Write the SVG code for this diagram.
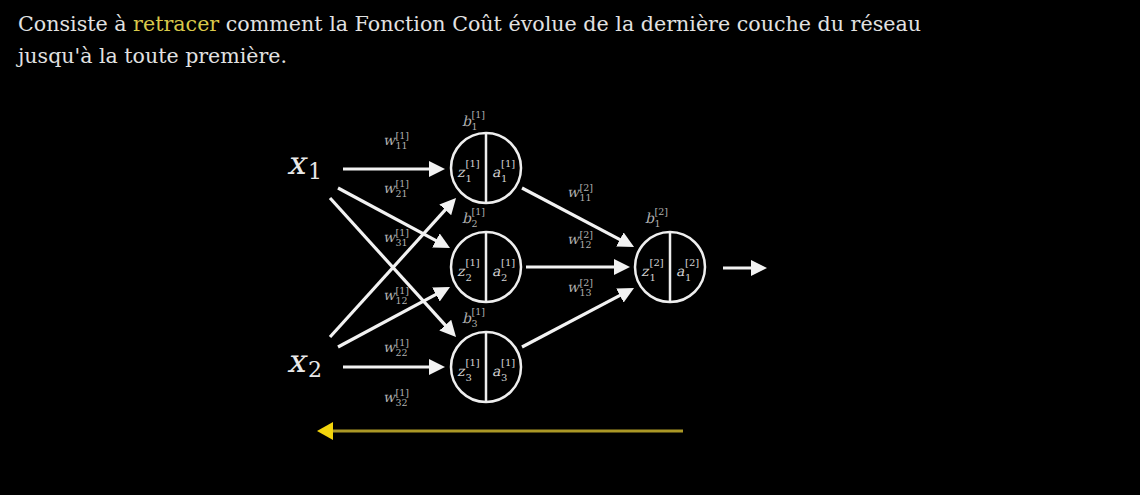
<svg xmlns="http://www.w3.org/2000/svg" width="1140" height="495" viewBox="0 0 1140 495">
<style>
text { font-family: "DejaVu Serif", "Liberation Serif", serif; }
.para { fill: #e2e2e2; font-size: 20px; }
.hl { fill: #d9c94a; }
.xl { fill: #e8e8e8; font-size: 32px; }
.xs { fill: #e8e8e8; font-size: 22px; }
.w { fill: #b0b0b0; font-size: 14px; }
.s { fill: #b0b0b0; font-size: 9.5px; }
.b { fill: #b0b0b0; font-size: 14px; }
.n { fill: #d2d2d2; font-size: 14px; }
.ns { fill: #d2d2d2; font-size: 10px; }
.node circle { fill: none; stroke: #eeeeee; stroke-width: 2.5; }
.node line { stroke: #eeeeee; stroke-width: 2.5; }
.edge { stroke: #f2f2f2; stroke-width: 3.2; fill: none; marker-end: url(#ah); }
</style>
<defs>
<marker id="ah" markerUnits="userSpaceOnUse" viewBox="0 0 16 16" markerWidth="16" markerHeight="16" refX="6" refY="8" orient="auto">
<path d="M0,0 L16,8 L0,16 z" fill="#f2f2f2"/>
</marker>
<marker id="ya" markerUnits="userSpaceOnUse" viewBox="0 0 16 18" markerWidth="16" markerHeight="18" refX="6" refY="9" orient="auto">
<path d="M0,0 L16,9 L0,18 z" fill="#f2d40c"/>
</marker>
</defs>
<rect width="1140" height="495" fill="#000000"/>

<g id="caption">
<text class="para" x="18" y="31" textLength="903" lengthAdjust="spacingAndGlyphs">Consiste à <tspan class="hl">retracer</tspan> comment la Fonction Coût évolue de la dernière couche du réseau</text>
<text class="para" x="18" y="63" textLength="269" lengthAdjust="spacingAndGlyphs">jusqu'à la toute première.</text>
</g>

<g id="connectors">
<line class="edge" x1="343" y1="169" x2="435" y2="169"/>
<line class="edge" x1="338" y1="188" x2="441.2" y2="243.3"/>
<line class="edge" x1="330" y1="198" x2="449.3" y2="329.6"/>
<line class="edge" x1="330" y1="337" x2="449.3" y2="205.4"/>
<line class="edge" x1="338" y1="347" x2="441.2" y2="291.7"/>
<line class="edge" x1="343" y1="367" x2="435" y2="367"/>
<line class="edge" x1="522" y1="188" x2="625.2" y2="242.3"/>
<line class="edge" x1="526" y1="267" x2="620" y2="267"/>
<line class="edge" x1="522" y1="347" x2="625.2" y2="292.7"/>
<line class="edge" x1="723" y1="268" x2="757" y2="268"/>
<line id="backprop" x1="683" y1="431" x2="327" y2="431" stroke="#ab9826" stroke-width="3" marker-end="url(#ya)"/>
</g>

<g id="input-x1" transform="translate(287,174)"><text class="xl" transform="skewX(-13)">x</text><text class="xs" x="21" y="5">1</text></g>
<g id="input-x2" transform="translate(287,372)"><text class="xl" transform="skewX(-13)">x</text><text class="xs" x="21" y="5">2</text></g>

<g id="weights">
<g transform="translate(383,145)"><text class="w" transform="skewX(-13)">w</text><text class="s" x="12.5" y="-6">[1]</text><text class="s" x="12.5" y="3.5">11</text></g>
<g transform="translate(383,193)"><text class="w" transform="skewX(-13)">w</text><text class="s" x="12.5" y="-6">[1]</text><text class="s" x="12.5" y="3.5">21</text></g>
<g transform="translate(383,242)"><text class="w" transform="skewX(-13)">w</text><text class="s" x="12.5" y="-6">[1]</text><text class="s" x="12.5" y="3.5">31</text></g>
<g transform="translate(383,300)"><text class="w" transform="skewX(-13)">w</text><text class="s" x="12.5" y="-6">[1]</text><text class="s" x="12.5" y="3.5">12</text></g>
<g transform="translate(383,352)"><text class="w" transform="skewX(-13)">w</text><text class="s" x="12.5" y="-6">[1]</text><text class="s" x="12.5" y="3.5">22</text></g>
<g transform="translate(383,402)"><text class="w" transform="skewX(-13)">w</text><text class="s" x="12.5" y="-6">[1]</text><text class="s" x="12.5" y="3.5">32</text></g>
<g transform="translate(567,197)"><text class="w" transform="skewX(-13)">w</text><text class="s" x="12.5" y="-6">[2]</text><text class="s" x="12.5" y="3.5">11</text></g>
<g transform="translate(567,244)"><text class="w" transform="skewX(-13)">w</text><text class="s" x="12.5" y="-6">[2]</text><text class="s" x="12.5" y="3.5">12</text></g>
<g transform="translate(567,292)"><text class="w" transform="skewX(-13)">w</text><text class="s" x="12.5" y="-6">[2]</text><text class="s" x="12.5" y="3.5">13</text></g>
</g>

<g id="biases">
<g transform="translate(462,126)"><text class="b" transform="skewX(-13)">b</text><text class="s" x="9.5" y="-8">[1]</text><text class="s" x="9.5" y="4">1</text></g>
<g transform="translate(462,223)"><text class="b" transform="skewX(-13)">b</text><text class="s" x="9.5" y="-8">[1]</text><text class="s" x="9.5" y="4">2</text></g>
<g transform="translate(462,323)"><text class="b" transform="skewX(-13)">b</text><text class="s" x="9.5" y="-8">[1]</text><text class="s" x="9.5" y="4">3</text></g>
<g transform="translate(645,223)"><text class="b" transform="skewX(-13)">b</text><text class="s" x="9.5" y="-8">[2]</text><text class="s" x="9.5" y="4">1</text></g>
</g>

<g id="node-1-1" class="node" transform="translate(486,168)">
<circle r="35"/><line x1="0" y1="-35" x2="0" y2="35"/>
<g transform="translate(-29,9)"><text class="n" transform="skewX(-13)">z</text><text class="ns" x="8.5" y="-10">[1]</text><text class="ns" x="8.5" y="5">1</text></g>
<g transform="translate(6,9)"><text class="n" transform="skewX(-13)">a</text><text class="ns" x="9" y="-10">[1]</text><text class="ns" x="9" y="5">1</text></g>
</g>
<g id="node-1-2" class="node" transform="translate(486,267)">
<circle r="35"/><line x1="0" y1="-35" x2="0" y2="35"/>
<g transform="translate(-29,9)"><text class="n" transform="skewX(-13)">z</text><text class="ns" x="8.5" y="-10">[1]</text><text class="ns" x="8.5" y="5">2</text></g>
<g transform="translate(6,9)"><text class="n" transform="skewX(-13)">a</text><text class="ns" x="9" y="-10">[1]</text><text class="ns" x="9" y="5">2</text></g>
</g>
<g id="node-1-3" class="node" transform="translate(486,367)">
<circle r="35"/><line x1="0" y1="-35" x2="0" y2="35"/>
<g transform="translate(-29,9)"><text class="n" transform="skewX(-13)">z</text><text class="ns" x="8.5" y="-10">[1]</text><text class="ns" x="8.5" y="5">3</text></g>
<g transform="translate(6,9)"><text class="n" transform="skewX(-13)">a</text><text class="ns" x="9" y="-10">[1]</text><text class="ns" x="9" y="5">3</text></g>
</g>
<g id="node-2-1" class="node" transform="translate(670,267)">
<circle r="35"/><line x1="0" y1="-35" x2="0" y2="35"/>
<g transform="translate(-29,9)"><text class="n" transform="skewX(-13)">z</text><text class="ns" x="8.5" y="-10">[2]</text><text class="ns" x="8.5" y="5">1</text></g>
<g transform="translate(6,9)"><text class="n" transform="skewX(-13)">a</text><text class="ns" x="9" y="-10">[2]</text><text class="ns" x="9" y="5">1</text></g>
</g>
</svg>
